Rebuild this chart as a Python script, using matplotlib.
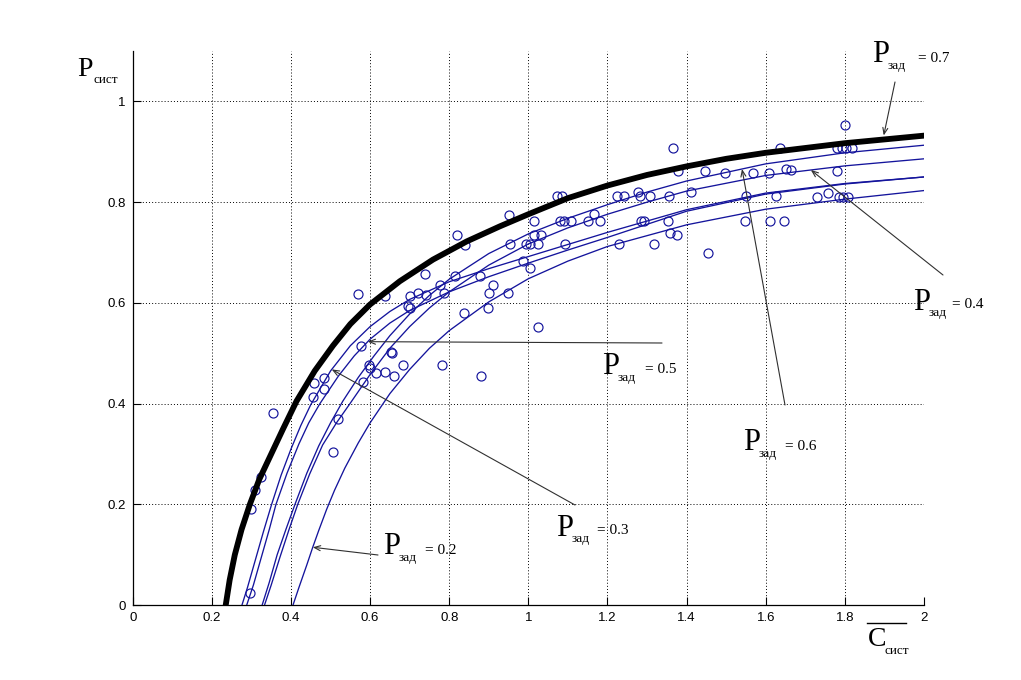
import matplotlib
matplotlib.use("Agg")
import matplotlib.pyplot as plt
from matplotlib.lines import Line2D
import numpy as np

plt.rcParams["font.family"] = ["Liberation Sans", "DejaVu Sans"]
SERIF = ["Liberation Serif", "DejaVu Serif"]

# --- curves ----------------------------------------------------------------
# P_zad = 0.7 (thick black)
p07_x = [0.235, 0.245, 0.258, 0.275, 0.296, 0.32, 0.35, 0.38, 0.414, 0.46, 0.506, 0.55,
         0.6, 0.675, 0.759, 0.844, 0.928, 1.0, 1.1, 1.2, 1.3, 1.4, 1.5, 1.6, 1.8, 2.0]
p07_y = [0.0, 0.05, 0.10, 0.15, 0.20, 0.25, 0.30, 0.35, 0.405, 0.465, 0.515, 0.558,
         0.597, 0.643, 0.686, 0.722, 0.752, 0.776, 0.808, 0.833, 0.854, 0.871, 0.886,
         0.898, 0.917, 0.932]

p06_x = [0.327, 0.345, 0.365, 0.387, 0.41, 0.44, 0.47, 0.50, 0.531, 0.57, 0.61, 0.65,
         0.70, 0.75, 0.80, 0.90, 1.00, 1.10, 1.20, 1.30, 1.40, 1.60, 1.80, 2.00]
p06_y = [0.0, 0.045, 0.10, 0.15, 0.20, 0.262, 0.316, 0.362, 0.405, 0.452, 0.495, 0.535,
         0.578, 0.615, 0.647, 0.698, 0.737, 0.768, 0.795, 0.82, 0.842, 0.876, 0.898, 0.913]

p05_x = [0.288, 0.305, 0.325, 0.345, 0.362, 0.39, 0.42, 0.445, 0.473, 0.52, 0.56, 0.60,
         0.65, 0.70, 0.80, 0.90, 1.00, 1.10, 1.20, 1.40, 1.60, 1.80, 2.00]
p05_y = [0.0, 0.04, 0.095, 0.15, 0.20, 0.262, 0.32, 0.362, 0.40, 0.455, 0.495, 0.528,
         0.56, 0.585, 0.622, 0.652, 0.679, 0.705, 0.73, 0.782, 0.816, 0.836, 0.850]

p04_x = [0.333, 0.35, 0.372, 0.395, 0.417, 0.447, 0.48, 0.515, 0.549, 0.60, 0.65, 0.70,
         0.75, 0.80, 0.90, 1.00, 1.10, 1.20, 1.30, 1.40, 1.60, 1.80, 2.00]
p04_y = [0.0, 0.04, 0.095, 0.15, 0.20, 0.26, 0.318, 0.362, 0.40, 0.458, 0.51, 0.553,
         0.59, 0.622, 0.675, 0.717, 0.749, 0.776, 0.80, 0.822, 0.853, 0.872, 0.886]

p03_x = [0.276, 0.29, 0.31, 0.33, 0.351, 0.375, 0.40, 0.425, 0.45, 0.50, 0.55, 0.60,
         0.65, 0.70, 0.80, 0.90, 1.00, 1.10, 1.20, 1.40, 1.60, 1.80, 2.00]
p03_y = [0.0, 0.035, 0.09, 0.145, 0.20, 0.258, 0.31, 0.357, 0.398, 0.465, 0.515, 0.553,
         0.583, 0.607, 0.642, 0.668, 0.692, 0.716, 0.74, 0.785, 0.818, 0.837, 0.850]

p02_x = [0.405, 0.42, 0.44, 0.455, 0.47, 0.49, 0.51, 0.536, 0.57, 0.60, 0.65, 0.70,
         0.75, 0.80, 0.90, 1.00, 1.10, 1.20, 1.40, 1.60, 1.80, 2.00]
p02_y = [0.0, 0.035, 0.08, 0.115, 0.148, 0.19, 0.228, 0.272, 0.322, 0.362, 0.42, 0.468,
         0.51, 0.545, 0.602, 0.648, 0.683, 0.712, 0.755, 0.786, 0.806, 0.823]

# --- measured points --------------------------------------------------------
pts_x = [0.296, 0.300, 0.310, 0.325, 0.355, 0.506, 0.519, 0.456, 0.458, 0.484, 0.484,
         0.576, 0.582, 0.596, 0.600, 0.614, 0.637, 0.661, 0.652, 0.656, 0.684, 0.782,
         0.880, 0.570, 0.637, 0.697, 0.701, 0.700, 0.721, 0.742, 0.738, 0.776, 0.787,
         0.814, 0.877, 0.838, 0.898, 0.901, 0.911, 0.820, 0.841, 0.949, 0.953, 0.952,
         0.987, 1.004, 0.995, 1.005, 1.025, 1.015, 1.033, 1.025, 1.015, 1.072, 1.085,
         1.080, 1.090, 1.107, 1.092, 1.151, 1.166, 1.182, 1.223, 1.241, 1.230, 1.278,
         1.282, 1.307, 1.285, 1.292, 1.317, 1.354, 1.356, 1.359, 1.376, 1.366, 1.379,
         1.410, 1.447, 1.455, 1.498, 1.548, 1.549, 1.567, 1.609, 1.611, 1.626, 1.636,
         1.645, 1.652, 1.665, 1.730, 1.758, 1.779, 1.779, 1.792, 1.804, 1.817, 1.784,
         1.796, 1.809, 1.800]
pts_y = [0.025, 0.190, 0.228, 0.254, 0.381, 0.304, 0.369, 0.414, 0.441, 0.451, 0.429,
         0.515, 0.443, 0.476, 0.470, 0.461, 0.463, 0.455, 0.503, 0.500, 0.476, 0.476,
         0.455, 0.618, 0.614, 0.593, 0.589, 0.614, 0.620, 0.616, 0.657, 0.636, 0.620,
         0.654, 0.654, 0.580, 0.590, 0.620, 0.636, 0.734, 0.714, 0.620, 0.716, 0.775,
         0.683, 0.669, 0.716, 0.716, 0.716, 0.734, 0.734, 0.553, 0.763, 0.812, 0.812,
         0.763, 0.763, 0.763, 0.716, 0.763, 0.777, 0.763, 0.813, 0.813, 0.716, 0.820,
         0.813, 0.812, 0.763, 0.763, 0.716, 0.763, 0.812, 0.739, 0.734, 0.907, 0.861,
         0.820, 0.861, 0.699, 0.858, 0.763, 0.812, 0.858, 0.858, 0.763, 0.812, 0.908,
         0.763, 0.866, 0.863, 0.810, 0.818, 0.861, 0.907, 0.907, 0.907, 0.907, 0.810,
         0.810, 0.810, 0.954]

x_ticks = [0, 0.2, 0.4, 0.6, 0.8, 1.0, 1.2, 1.4, 1.6, 1.8, 2.0]
x_tick_labels = ["0", "0.2", "0.4", "0.6", "0.8", "1", "1.2", "1.4", "1.6", "1.8", "2"]
y_ticks = [0, 0.2, 0.4, 0.6, 0.8, 1.0]
y_tick_labels = ["0", "0.2", "0.4", "0.6", "0.8", "1"]

W, H = 1021, 680
BLUE = "#14149c"

fig = plt.figure(figsize=(W / 100, H / 100), dpi=100)
ax = fig.add_axes([0.13, 0.11, 0.775, 0.815])

ax.plot(pts_x, pts_y, "o", mfc="none", mec=BLUE, ms=6.5, mew=0.85, zorder=2)
thin = [(p06_x, p06_y), (p05_x, p05_y), (p04_x, p04_y), (p03_x, p03_y), (p02_x, p02_y)]
for cx, cy in thin:
    ax.plot(cx, cy, color=BLUE, lw=0.95, zorder=3)
ax.plot(p07_x, p07_y, color="black", lw=4.2, zorder=4)

ax.set_xlim(0, 2)
ax.set_ylim(0, 1.1)
ax.set_xticks(x_ticks)
ax.set_xticklabels(x_tick_labels)
ax.set_yticks(y_ticks)
ax.set_yticklabels(y_tick_labels)
ax.set_axisbelow(True)
ax.grid(True, color="black", linestyle=(0, (1, 2.2)), linewidth=0.7)
for s in ("top", "right"):
    ax.spines[s].set_visible(False)
for s in ("left", "bottom"):
    ax.spines[s].set_linewidth(0.9)
ax.tick_params(direction="in", length=6, width=0.8, labelsize=9.5, pad=5,
               top=False, right=False)


def px(x, y):
    return x / W, 1 - y / H


def plabel(x, y, main, sub, eq=None, eq_x=None, size=22):
    fig.text(*px(x, y), main, family=SERIF, fontsize=size, ha="left", va="center")
    fig.text(*px(x + 16, y + 11), sub, family=SERIF, fontsize=9.5, ha="left", va="center")
    if eq:
        fig.text(*px(eq_x, y + 3), eq, family=SERIF, fontsize=11, ha="left", va="center")


# axis labels
plabel(77, 69, "P", "сист", size=20)
plabel(868, 640, "C", "сист", size=20)
fig.add_artist(Line2D([866.7 / W, 905.7 / W], [1 - 622.7 / H] * 2, color="black", lw=1.0))

# curve labels: (curve, tip x, tail px, P pos px, eq x px, text, shrink)
notes = [
    (p07_x, p07_y, 1.896, (895, 82), (872, 55), 918, "= 0.7", 3),
    (p04_x, p04_y, 1.714, (943, 275), (913, 302), 952, "= 0.4", 0),
    (p05_x, p05_y, 0.594, (662, 343), (602, 367), 645, "= 0.5", 0),
    (p06_x, p06_y, 1.540, (785, 405), (743, 443), 785, "= 0.6", 0),
    (p03_x, p03_y, 0.503, (575, 505), (556, 528), 597, "= 0.3", 0),
    (p02_x, p02_y, 0.455, (378, 555), (383, 547), 425, "= 0.2", 0),
]
for cx, cy, tx, tail, ppos, eqx, txt, shr in notes:
    ty = np.interp(tx, cx, cy)
    ax.annotate("", xy=(tx, ty), xycoords="data",
                xytext=(tail[0], H - tail[1]), textcoords="figure pixels",
                arrowprops=dict(arrowstyle="->,head_length=0.45,head_width=0.18",
                                color="#303030", lw=0.8, shrinkA=0, shrinkB=shr),
                annotation_clip=False, zorder=5)
    plabel(ppos[0], ppos[1], "P", "зад", txt, eqx)

fig.savefig("out.png", dpi=100)
